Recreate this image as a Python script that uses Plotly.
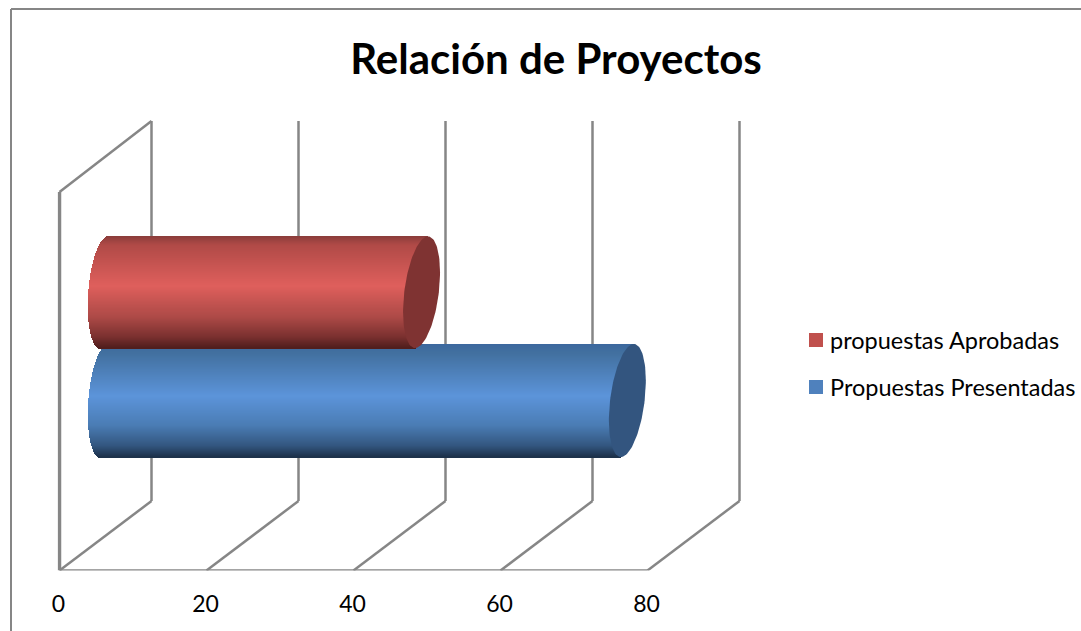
import numpy as np
import plotly.graph_objects as go

# ---- data ----
TITLE = "Relación de Proyectos"
SERIES_NAMES = ["Propuestas Presentadas", "propuestas Aprobadas"]
SERIES_VALUES = [71, 43]
TICK_VALUES = [0, 20, 40, 60, 80]
TICK_LABELS = ["0", "20", "40", "60", "80"]

# ---- page geometry (pixels) ----
W, H = 1081, 631
PX_X0, PX_X80 = 59.5, 647.5
PX_PER_UNIT = (PX_X80 - PX_X0) / 80
DEPTH_X = 92.0 / PX_PER_UNIT      # wall depth along the value axis
PLOT_LEFT, PLOT_RIGHT = PX_X0 - 2, 745.0
PLOT_TOP, PLOT_BOTTOM = 115.0, 570.5
FLOOR_RISE = 69.5
WALL_FRONT_TOP = 378.5
WALL_BACK_TOP = 449.5
MID_DEPTH = 46.0 / PX_PER_UNIT
LEFT_DEPTH = 44.5 / PX_PER_UNIT
LEFT_A, LEFT_S = 16.2, 4.0

CYL = [
    dict(cy=570.5 - 400.5, h=56.5, a=17.3, s=6.5, body="#3e6ca6", cap="#33557f",
         stops=[(0, "#3c689e"), (0.08, "#42709f"), (0.46, "#5c94da"), (0.72, "#4a7cb4"),
                (0.9, "#33567f"), (1, "#1c3049")], swatch="#4f81bd", ly=387),
    dict(cy=570.5 - 292.2, h=55.8, a=17.3, s=6.5, body="#c0504d", cap="#7f3332",
         stops=[(0, "#8a3c3a"), (0.08, "#b04a47"), (0.45, "#df5f5c"), (0.72, "#ad4a47"),
                (0.9, "#7a302f"), (1, "#4f1d1c")], swatch="#c0504d", ly=340),
]


def hex2rgb(c):
    return np.array([int(c[i:i + 2], 16) for i in (1, 3, 5)], float)


def shade(stops, f):
    pos = [p for p, _ in stops]
    rgb = np.array([hex2rgb(c) for _, c in stops])
    v = [np.interp(f, pos, rgb[:, k]) for k in range(3)]
    return "rgb(%d,%d,%d)" % tuple(int(round(x)) for x in v)


fig = go.Figure()

# cylinders: blue first, red overlapping it
for name, value, c in zip(SERIES_NAMES, SERIES_VALUES, CYL):
    n = int(2 * c["h"])
    ys, bases, lens, cols = [], [], [], []
    for i in range(n):
        f = (i + 0.5) / n
        u = 1 - 2 * f
        y = c["cy"] + u * c["h"]
        left = LEFT_DEPTH + (LEFT_S * u - LEFT_A * np.sqrt(1 - u * u)) / PX_PER_UNIT
        right = value + MID_DEPTH + c["s"] * u / PX_PER_UNIT
        ys.append(y)
        bases.append(left)
        lens.append(right - left)
        cols.append(shade(c["stops"], f))
    fig.add_trace(go.Bar(orientation="h", y=ys, x=lens, base=bases, width=2 * c["h"] / n + 0.6,
                         marker=dict(color=cols, line=dict(width=0)), showlegend=False,
                         hoverinfo="skip"))

for name, value, c in zip(SERIES_NAMES, SERIES_VALUES, CYL):
    t = np.linspace(0, 2 * np.pi, 121)
    cx = value + MID_DEPTH + (c["a"] * np.cos(t) + c["s"] * np.sin(t)) / PX_PER_UNIT
    cy = c["cy"] + c["h"] * np.sin(t)
    fig.add_trace(go.Scatter(x=cx, y=cy, mode="lines", fill="toself", fillcolor=c["cap"],
                             line=dict(width=0, color=c["cap"]), showlegend=False,
                             hoverinfo="skip"))

# legend entries (red listed first); swatches sit as page squares, see below
for name, c in list(zip(SERIES_NAMES, CYL))[::-1]:
    fig.add_trace(go.Scatter(x=[None], y=[None], mode="markers", name=name, legendgroup=name,
                             marker=dict(symbol="square", size=14, color="rgba(0,0,0,0)")))

# walls and floor
GRID = dict(color="#868686", width=2.5)
shapes = []
for v in TICK_VALUES:
    shapes.append(dict(type="line", layer="below", xref="x", yref="y", x0=v + DEPTH_X, x1=v + DEPTH_X,
                       y0=FLOOR_RISE, y1=WALL_BACK_TOP, line=GRID))
    shapes.append(dict(type="line", layer="below", xref="x", yref="y", x0=v, x1=v + DEPTH_X,
                       y0=0, y1=FLOOR_RISE, line=GRID))
shapes.append(dict(type="line", layer="below", xref="x", yref="y", x0=0, x1=80, y0=0, y1=0, line=GRID))
shapes.append(dict(type="line", layer="below", xref="x", yref="y", x0=0, x1=0, y0=0, y1=WALL_FRONT_TOP,
                   line=dict(color="#868686", width=3.5)))
shapes.append(dict(type="line", layer="below", xref="x", yref="y", x0=0, x1=DEPTH_X,
                   y0=WALL_FRONT_TOP, y1=WALL_BACK_TOP, line=GRID))
# chart frame, open at right and bottom as in the source
FRAME = dict(color="#868686", width=2)
shapes.append(dict(type="line", xref="paper", yref="paper", x0=11 / W, x1=11 / W, y0=0, y1=1 - 9 / H, line=FRAME))
shapes.append(dict(type="line", xref="paper", yref="paper", x0=11 / W, x1=1, y0=1 - 9 / H, y1=1 - 9 / H, line=FRAME))
# legend swatches
for c in CYL:
    shapes.append(dict(type="rect", xref="paper", yref="paper", x0=809 / W, x1=823 / W,
                       y0=1 - (c["ly"] + 7) / H, y1=1 - (c["ly"] - 7) / H,
                       fillcolor=c["swatch"], line=dict(width=0)))

fig.update_layout(
    width=W, height=H,
    margin=dict(l=0, r=0, t=0, b=0, autoexpand=False),
    paper_bgcolor="white", plot_bgcolor="white",
    font=dict(family="Lato", color="#000000"),
    barmode="overlay",
    bargap=0,
    title=dict(text="<b>" + TITLE + "</b>", x=556 / W, xanchor="center", y=1 - 59 / H, yanchor="middle",
               font=dict(size=42, family="Lato", color="#000000")),
    xaxis=dict(domain=[PLOT_LEFT / W, PLOT_RIGHT / W],
               range=[(PLOT_LEFT - PX_X0) / PX_PER_UNIT, (PLOT_RIGHT - PX_X0) / PX_PER_UNIT],
               tickmode="array", tickvals=TICK_VALUES, ticktext=TICK_LABELS,
               showgrid=False, zeroline=False, showline=False, ticks="",
               ticklabelstandoff=17, ticklabelshift=-1,
               tickfont=dict(size=23, family="Lato", color="#000000")),
    yaxis=dict(domain=[1 - PLOT_BOTTOM / H, 1 - PLOT_TOP / H],
               range=[0, PLOT_BOTTOM - PLOT_TOP], visible=False),
    legend=dict(x=790 / W, y=1 - 318 / H, xanchor="left", yanchor="top", traceorder="grouped",
                tracegroupgap=14, font=dict(size=23.5, family="Lato", color="#000000"),
                bgcolor="rgba(0,0,0,0)", itemwidth=30),
    shapes=shapes,
)

fig.write_html(
    "out.html",
    config={"displayModeBar": False},
    post_script="document.body.style.margin='0';document.body.style.overflow='hidden';",
)
